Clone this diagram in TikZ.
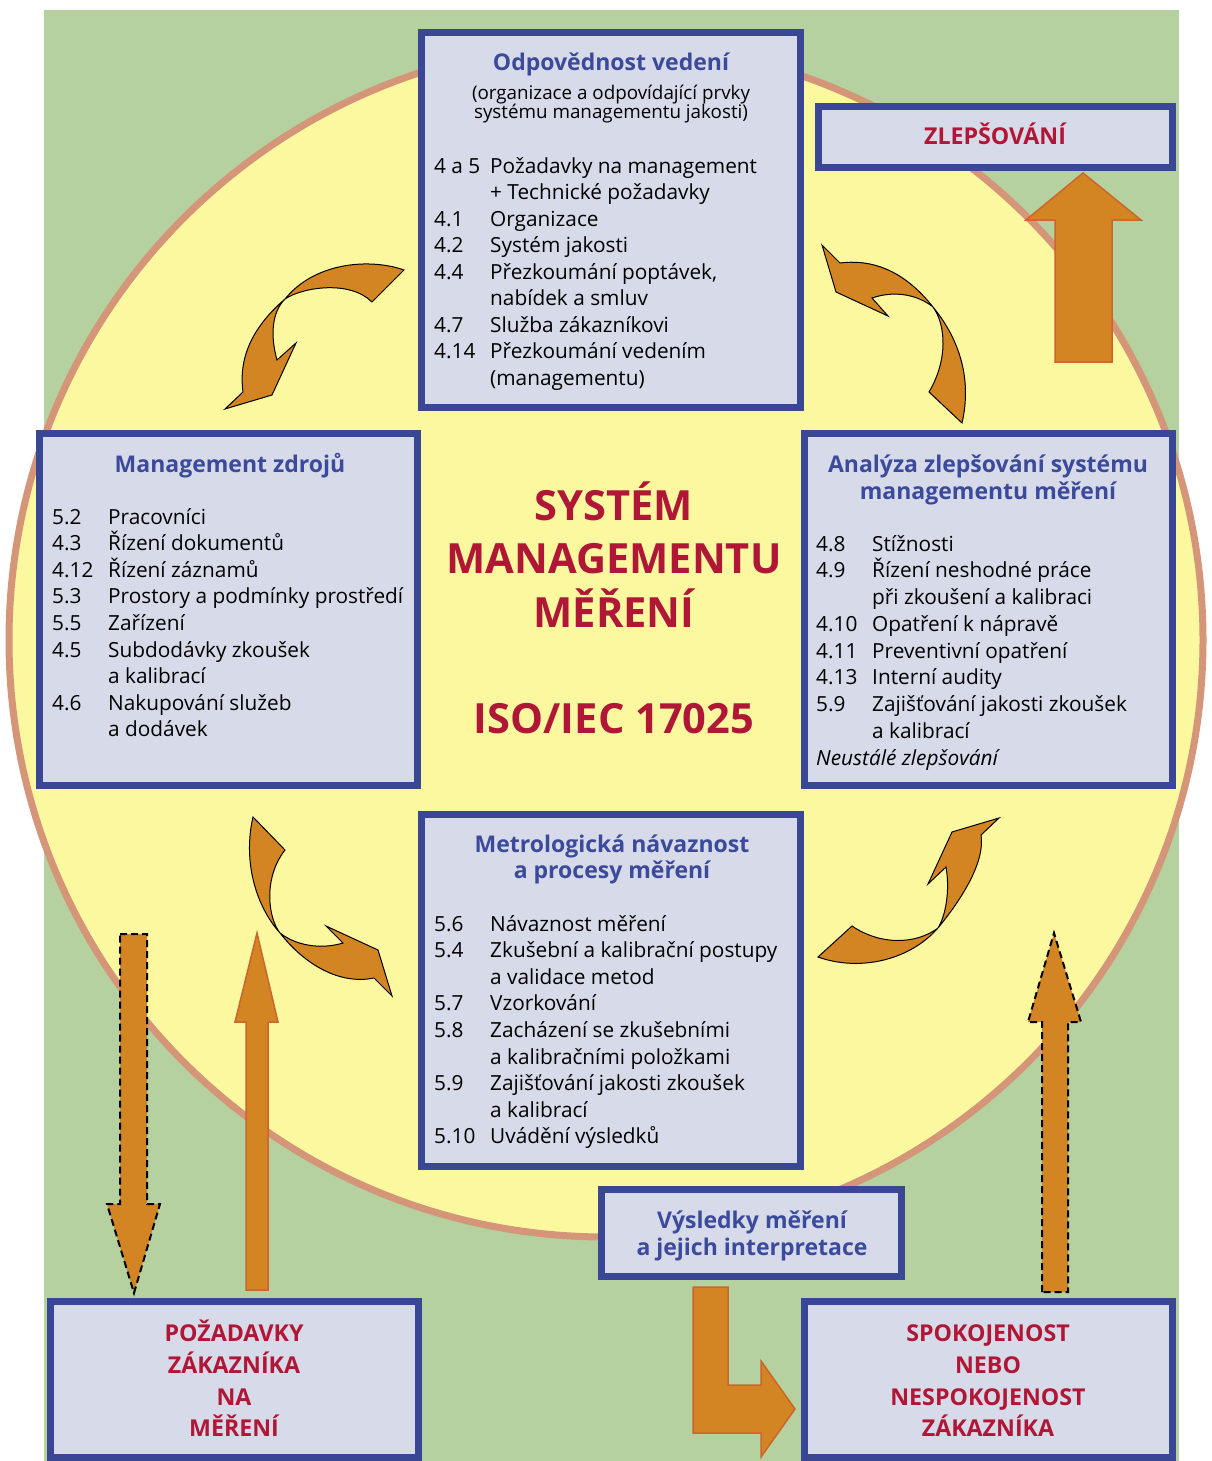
\documentclass[tikz,border=0pt]{standalone}
\usepackage{fontspec}
\setmainfont{Open Sans}
\definecolor{bggreen}{HTML}{B4D19F}
\definecolor{circfill}{HTML}{FCF8A0}
\definecolor{circline}{HTML}{D49579}
\definecolor{boxfill}{HTML}{D7DAE8}
\definecolor{boxline}{HTML}{3A4795}
\definecolor{ttlblue}{HTML}{3B4A9B}
\definecolor{redtxt}{HTML}{B01736}
\definecolor{arrfill}{HTML}{D48523}
\definecolor{arrline}{HTML}{CC652D}
\newcommand\bodyf{\fontsize{20.8}{24}\selectfont}
\newcommand\titlef{\fontsize{23}{27}\selectfont\bfseries}
\newcommand\subf{\fontsize{18.8}{20}\selectfont}
\newcommand\redf{\fontsize{23.2}{27}\selectfont\bfseries}
\newcommand\bigf{\fontsize{41.6}{50}\selectfont\bfseries}
\begin{document}
\begin{tikzpicture}[x=1pt,y=-1pt,
  panel/.style={draw=boxline, fill=boxfill, line width=7pt, inner sep=0pt, outer sep=0pt},
  ttl/.style={anchor=base, inner sep=0pt, font=\titlef, text=ttlblue},
  subl/.style={anchor=base, inner sep=0pt, font=\subf},
  itm/.style={anchor=base west, inner sep=0pt, font=\bodyf},
  redl/.style={anchor=base, inner sep=0pt, font=\redf, text=redtxt},
  bigl/.style={anchor=base, inner sep=0pt, font=\bigf, text=redtxt},
  curved/.style={fill=arrfill, draw=black, line width=1pt, line join=miter},
  solidarr/.style={fill=arrfill, draw=arrline, line width=1.5pt},
  dasharr/.style={fill=arrfill, draw=black, line width=2pt, dash pattern=on 7pt off 4pt}]
\useasboundingbox (0,0) rectangle (1211,1461);
% background
\fill[bggreen] (44,10) rectangle (1179,1461);
\draw[fill=circfill, draw=circline, line width=7pt] (606,640) circle[radius=597];

% boxes
\node[panel, minimum width=379pt, minimum height=375pt] (top) at (611,220) {};
\node[panel, minimum width=354pt, minimum height=61pt] (zl) at (995.5,137) {};
\node[panel, minimum width=378pt, minimum height=352pt] (left) at (228.5,609.5) {};
\node[panel, minimum width=368pt, minimum height=352pt] (right) at (988.5,609.5) {};
\node[panel, minimum width=379pt, minimum height=352pt] (mid) at (611,990.5) {};
\node[panel, minimum width=300pt, minimum height=87pt] (vys) at (751.5,1233) {};
\node[panel, minimum width=368pt, minimum height=156pt] (poz) at (234.5,1379.5) {};
\node[panel, minimum width=368pt, minimum height=156pt] (spok) at (988.5,1379.5) {};

% curved arrows
\draw[curved] (404,270) .. controls (370,258) and (315,262) .. (285,299)
  .. controls (255,325) and (238,355) .. (243,392)
  -- (225,409) -- (272,395) -- (296,343) -- (277,360)
  .. controls (270,335) and (272,312) .. (285,299)
  .. controls (303,287) and (350,280) .. (372,302) -- cycle;
\draw[curved] (962,423) .. controls (972,380) and (960,340) .. (933,307)
  .. controls (910,278) and (880,258) .. (840,263)
  -- (822,245) -- (836,292) -- (888,316) -- (872,298)
  .. controls (895,290) and (918,295) .. (933,307)
  .. controls (946,325) and (948,360) .. (929,392) -- cycle;
\draw[curved] (253,817) .. controls (243,860) and (255,905) .. (280,933)
  .. controls (305,965) and (340,985) .. (374,978)
  -- (392,996) -- (378,950) -- (326,926) -- (343,943)
  .. controls (320,950) and (295,945) .. (280,933)
  .. controls (268,918) and (263,878) .. (285,850) -- cycle;
\draw[curved] (818,957) .. controls (860,972) and (910,960) .. (938,928)
  .. controls (965,895) and (985,860) .. (981,835)
  -- (999,818) -- (952,832) -- (928,884) -- (946,867)
  .. controls (950,890) and (946,915) .. (938,928)
  .. controls (915,945) and (880,945) .. (852,926) -- cycle;

% straight arrows
\draw[dasharr] (120,934) -- (147,934) -- (147,1204) -- (160,1204) -- (134,1293) -- (107,1204) -- (120,1204) -- cycle;
\draw[solidarr] (246,1290) -- (246,1022) -- (235,1022) -- (257,933) -- (278,1022) -- (268,1022) -- (268,1290) -- cycle;
\draw[dasharr] (1042,1292) -- (1042,1022) -- (1028,1022) -- (1054,933) -- (1081,1022) -- (1068,1022) -- (1068,1292) -- cycle;
\draw[solidarr] (1055,362) -- (1055,220) -- (1026,220) -- (1083,173) -- (1141,220) -- (1112,220) -- (1112,362) -- cycle;
\draw[solidarr] (693,1287) -- (728,1287) -- (728,1385) -- (761,1385) -- (761,1361) -- (795,1409) -- (761,1457) -- (761,1433) -- (693,1433) -- cycle;

% top box text
\node[ttl] (t0) at (611,71) {Odpovědnost vedení};
\node[subl] (t0a) at (611,100) {(organizace a odpovídající prvky};
\node[subl] (t0b) at (611,119) {systému managementu jakosti)};
\node[itm] (t1n) at (434,173) {4 a 5};
\node[itm] (t1) at (490,173) {Požadavky na management};
\node[itm] (t2) at (490,199.5) {+ Technické požadavky};
\node[itm] (t3n) at (434,226) {4.1};
\node[itm] (t3) at (490,226) {Organizace};
\node[itm] (t4n) at (434,252.5) {4.2};
\node[itm] (t4) at (490,252.5) {Systém jakosti};
\node[itm] (t5n) at (434,279) {4.4};
\node[itm] (t5) at (490,279) {Přezkoumání poptávek,};
\node[itm] (t6) at (490,305.5) {nabídek a smluv};
\node[itm] (t7n) at (434,332) {4.7};
\node[itm] (t7) at (490,332) {Služba zákazníkovi};
\node[itm] (t8n) at (434,358.5) {4.14};
\node[itm] (t8) at (490,358.5) {Přezkoumání vedením};
\node[itm] (t9) at (490,385) {(managementu)};

% left box text
\node[ttl] (l0) at (230,472) {Management zdrojů};
\node[itm] (l1n) at (52,524) {5.2};
\node[itm] (l1) at (108,524) {Pracovníci};
\node[itm] (l2n) at (52,550.6) {4.3};
\node[itm] (l2) at (108,550.6) {Řízení dokumentů};
\node[itm] (l3n) at (52,577.2) {4.12};
\node[itm] (l3) at (108,577.2) {Řízení záznamů};
\node[itm] (l4n) at (52,603.8) {5.3};
\node[itm] (l4) at (108,603.8) {Prostory a podmínky prostředí};
\node[itm] (l5n) at (52,630.4) {5.5};
\node[itm] (l5) at (108,630.4) {Zařízení};
\node[itm] (l6n) at (52,657) {4.5};
\node[itm] (l6) at (108,657) {Subdodávky zkoušek};
\node[itm] (l7) at (108,683.6) {a kalibrací};
\node[itm] (l8n) at (52,710.2) {4.6};
\node[itm] (l8) at (108,710.2) {Nakupování služeb};
\node[itm] (l9) at (108,736.8) {a dodávek};

% right box text
\node[ttl] (r0) at (988,472) {Analýza zlepšování systému};
\node[ttl] (r0b) at (988,499) {managementu měření};
\node[itm] (r1n) at (816,551) {4.8};
\node[itm] (r1) at (872,551) {Stížnosti};
\node[itm] (r2n) at (816,577.75) {4.9};
\node[itm] (r2) at (872,577.75) {Řízení neshodné práce};
\node[itm] (r3) at (872,604.5) {při zkoušení a kalibraci};
\node[itm] (r4n) at (816,631.25) {4.10};
\node[itm] (r4) at (872,631.25) {Opatření k nápravě};
\node[itm] (r5n) at (816,658) {4.11};
\node[itm] (r5) at (872,658) {Preventivní opatření};
\node[itm] (r6n) at (816,684.75) {4.13};
\node[itm] (r6) at (872,684.75) {Interní audity};
\node[itm] (r7n) at (816,711.5) {5.9};
\node[itm] (r7) at (872,711.5) {Zajišťování jakosti zkoušek};
\node[itm] (r8) at (872,738.25) {a kalibrací};
\node[itm, font=\bodyf\itshape] (r9) at (816,765) {Neustálé zlepšování};

% middle box text
\node[ttl] (m0) at (612,852) {Metrologická návaznost};
\node[ttl] (m0b) at (612,878) {a procesy měření};
\node[itm] (m1n) at (434,931) {5.6};
\node[itm] (m1) at (490,931) {Návaznost měření};
\node[itm] (m2n) at (434,957.6) {5.4};
\node[itm] (m2) at (490,957.6) {Zkušební a kalibrační postupy};
\node[itm] (m3) at (490,984.2) {a validace metod};
\node[itm] (m4n) at (434,1010.8) {5.7};
\node[itm] (m4) at (490,1010.8) {Vzorkování};
\node[itm] (m5n) at (434,1037.4) {5.8};
\node[itm] (m5) at (490,1037.4) {Zacházení se zkušebními};
\node[itm] (m6) at (490,1064) {a kalibračními položkami};
\node[itm] (m7n) at (434,1090.6) {5.9};
\node[itm] (m7) at (490,1090.6) {Zajišťování jakosti zkoušek};
\node[itm] (m8) at (490,1117.2) {a kalibrací};
\node[itm] (m9n) at (434,1143.8) {5.10};
\node[itm] (m9) at (490,1143.8) {Uvádění výsledků};

% other texts
\node[ttl] (v0) at (752,1228) {Výsledky měření};
\node[ttl] (v1) at (752,1255) {a jejich interpretace};
\node[redl] (z0) at (995,145) {ZLEPŠOVÁNÍ};
\node[redl] (p1) at (234,1341) {POŽADAVKY};
\node[redl] (p2) at (234,1373) {ZÁKAZNÍKA};
\node[redl] (p3) at (234,1405) {NA};
\node[redl] (p4) at (234,1436) {MĚŘENÍ};
\node[redl] (s1) at (988,1341) {SPOKOJENOST};
\node[redl] (s2) at (988,1373) {NEBO};
\node[redl] (s3) at (988,1405) {NESPOKOJENOST};
\node[redl] (s4) at (988,1436) {ZÁKAZNÍKA};
\node[bigl] (c1) at (614,520) {SYSTÉM};
\node[bigl] (c2) at (614,573) {MANAGEMENTU};
\node[bigl] (c3) at (614,627) {MĚŘENÍ};
\node[bigl] (c4) at (614,733) {ISO/IEC 17025};
\end{tikzpicture}
\end{document}
